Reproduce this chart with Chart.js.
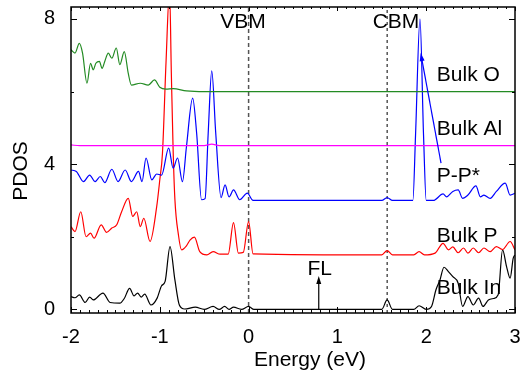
<!DOCTYPE html>
<html>
<head>
<meta charset="utf-8">
<script src="https://cdn.jsdelivr.net/npm/chart.js@4"></script>
<style>
  html, body { margin: 0; padding: 0; background: #fff; }
  canvas { display: block; }
</style>
</head>
<body>
<canvas id="pdosChart" width="525" height="381"></canvas>
<script>
// PDOS curves (energy in eV, PDOS offset per layer)
const inX = [-2, -1.955, -1.906, -1.84, -1.79, -1.75, -1.64, -1.56, -1.45, -1.40, -1.34, -1.29, -1.25, -1.21, -1.17, -1.10, -1.03, -0.98, -0.94, -0.885, -0.83, -0.78, -0.72, -0.60, -0.5, -0.40, -0.33, -0.27, -0.22, -0.17, -0.08, 0.0, 0.06, 1.50, 1.56, 1.62, 1.86, 1.92, 2.0, 2.06, 2.11, 2.155, 2.20, 2.25, 2.30, 2.36, 2.41, 2.47, 2.53, 2.59, 2.64, 2.70, 2.76, 2.81, 2.86, 2.905, 2.945, 2.98, 3.0];
const inY = [0.35, 0.32, 0.40, 0.19, 0.34, 0.26, 0.45, 0.19, 0.17, 0.30, 0.58, 0.37, 0.45, 0.34, 0.42, 0.12, 0.31, 0.65, 0.77, 1.73, 0.81, 0.12, 0.01, 0.06, 0.0, 0.08, 0.0, 0.08, 0.0, 0.06, 0.0, 0.08, 0.0, 0.0, 0.26, 0.0, 0.0, 0.1, 0.0, 0.08, 0.54, 0.81, 1.16, 1.04, 0.9, 0.72, 0.08, 0.35, 0.12, 0.31, 0.08, 0.26, 0.3, 0.4, 1.64, 1.18, 0.86, 1.41, 1.5];

const pX = [-2, -1.955, -1.89, -1.83, -1.78, -1.74, -1.66, -1.60, -1.54, -1.485, -1.43, -1.355, -1.305, -1.26, -1.22, -1.18, -1.11, -1.035, -1.0, -0.97, -0.93, -0.89, -0.87, -0.85, -0.83, -0.79, -0.755, -0.70, -0.66, -0.61, -0.55, -0.47, -0.40, -0.32, -0.23, -0.17, -0.115, -0.06, 0.0, 0.05, 1.50, 1.56, 1.62, 1.86, 1.92, 1.98, 2.10, 2.19, 2.25, 2.30, 2.36, 2.42, 2.47, 2.53, 2.59, 2.65, 2.72, 2.79, 2.86, 2.945, 3.0];
const pY = [2.28, 2.14, 2.69, 2.0, 2.1, 1.96, 2.33, 2.12, 2.24, 2.33, 2.69, 3.06, 2.56, 2.69, 2.28, 2.51, 1.87, 2.83, 3.57, 4.3, 6.8, 8.8, 6.5, 4.4, 3.03, 2.05, 1.64, 1.75, 1.91, 1.99, 1.59, 1.5, 1.59, 1.52, 1.52, 2.39, 1.55, 1.57, 2.42, 1.53, 1.5, 1.62, 1.5, 1.5, 1.59, 1.5, 1.55, 1.82, 1.64, 1.72, 1.56, 1.69, 1.55, 1.69, 1.56, 1.69, 1.59, 1.73, 1.65, 1.87, 1.64];

const ppX = [-2, -1.94, -1.86, -1.79, -1.73, -1.67, -1.62, -1.54, -1.47, -1.39, -1.32, -1.24, -1.20, -1.155, -1.09, -1.035, -0.98, -0.90, -0.85, -0.80, -0.745, -0.70, -0.63, -0.585, -0.53, -0.49, -0.455, -0.415, -0.37, -0.31, -0.265, -0.22, -0.17, -0.10, -0.015, 0.05, 1.50, 1.56, 1.62, 1.85, 1.88, 1.93, 1.97, 2.0, 2.08, 2.19, 2.23, 2.30, 2.36, 2.41, 2.47, 2.56, 2.61, 2.65, 2.72, 2.79, 2.89, 2.945, 3.0];
const ppY = [3.84, 3.8, 3.52, 3.7, 3.52, 3.66, 3.49, 3.86, 3.52, 3.84, 3.52, 3.8, 3.52, 4.17, 3.57, 3.73, 3.7, 4.44, 3.89, 4.17, 3.52, 4.48, 5.82, 4.85, 3.02, 3.05, 4.85, 6.57, 4.85, 3.08, 3.43, 3.1, 3.29, 3.02, 3.2, 3.0, 3.0, 3.08, 3.0, 3.0, 4.8, 8.0, 4.8, 3.0, 3.0, 3.18, 3.1, 3.25, 3.29, 3.06, 3.15, 3.4, 3.1, 3.15, 3.06, 3.25, 3.48, 3.15, 3.2];

const alX = [-2, -1.9, -0.5, -0.415, -0.33, 3.0];
const alY = [4.53, 4.51, 4.51, 4.55, 4.51, 4.51];

const oX = [-2, -1.955, -1.906, -1.87, -1.82, -1.78, -1.75, -1.72, -1.68, -1.65, -1.62, -1.58, -1.54, -1.49, -1.45, -1.40, -1.355, -1.32, -1.22, -1.13, -1.06, -1.0, -0.93, -0.85, -0.70, -0.5, 3.0];
const oY = [7.15, 7.06, 7.33, 7.06, 6.23, 6.78, 6.6, 6.78, 6.83, 6.64, 6.83, 7.06, 6.92, 7.2, 6.74, 7.1, 6.5, 6.18, 6.23, 6.18, 6.32, 6.12, 6.07, 6.08, 6.02, 6.0, 6.0];

const xTicks = [-2, -1, 0, 1, 2, 3];
const yTicks = [0, 4, 8];
const vbmE = 0;
const cbmE = 1.56;
const fermiE = 0.79;

const yMin = -0.1, yMax = 8.33;

// text labels in data coordinates
const notes = [
    { text: 'VBM', x: -0.063, y: 7.92, align: 'center' },
    { text: 'CBM', x: 1.66, y: 7.92, align: 'center' },
    { text: 'FL', x: 0.80, y: 1.10, align: 'center' },
    { text: 'Bulk O', x: 2.12, y: 6.44, align: 'left' },
    { text: 'Bulk Al', x: 2.12, y: 4.96, align: 'left' },
    { text: 'P-P*', x: 2.12, y: 3.68, align: 'left' },
    { text: 'Bulk P', x: 2.12, y: 2.02, align: 'left' },
    { text: 'Bulk In', x: 2.12, y: 0.57, align: 'left' }
];

const FONT = '"Liberation Sans", Arial, sans-serif';

function pts(xs, ys) {
    return xs.map((x, i) => ({ x: x, y: ys[i] }));
}

function curve(xs, ys, color) {
    return {
        data: pts(xs, ys),
        borderColor: color,
        borderWidth: 1.2,
        pointRadius: 0,
        cubicInterpolationMode: 'monotone',
        fill: false
    };
}

function arrow(ctx, x0, y0, x1, y1, color) {
    const ang = Math.atan2(y1 - y0, x1 - x0);
    const len = 8, half = 2.5;
    ctx.strokeStyle = color;
    ctx.fillStyle = color;
    ctx.lineWidth = 1.2;
    ctx.beginPath();
    ctx.moveTo(x0, y0);
    ctx.lineTo(x1 - Math.cos(ang) * len * 0.8, y1 - Math.sin(ang) * len * 0.8);
    ctx.stroke();
    ctx.beginPath();
    ctx.moveTo(x1, y1);
    ctx.lineTo(x1 - Math.cos(ang) * len - Math.sin(ang) * half, y1 - Math.sin(ang) * len + Math.cos(ang) * half);
    ctx.lineTo(x1 - Math.cos(ang) * len + Math.sin(ang) * half, y1 - Math.sin(ang) * len - Math.cos(ang) * half);
    ctx.closePath();
    ctx.fill();
}

const decor = {
    id: 'decor',
    afterDraw(chart) {
        const { ctx, chartArea: a, scales } = chart;
        const x = scales.x, y = scales.y;
        ctx.save();

        // frame
        ctx.strokeStyle = '#000';
        ctx.lineWidth = 1.5;
        ctx.strokeRect(a.left, a.top, a.right - a.left, a.bottom - a.top);

        // inward ticks (bottom, top, left, right)
        ctx.lineWidth = 1;
        ctx.beginPath();
        for (let i = 0; i <= 50; i++) {
            const px = Math.round(x.getPixelForValue(xTicks[0] + i * 0.1)) + 0.5;
            const major = i % 10 === 0;
            ctx.moveTo(px, a.bottom);
            ctx.lineTo(px, a.bottom - (major ? 6 : 3));
            ctx.moveTo(px, a.top);
            ctx.lineTo(px, a.top + (major ? 4 : 2));
        }
        for (let v = 0; v <= 8; v += 2) {
            const py = Math.round(y.getPixelForValue(v)) + 0.5;
            const len = v % 4 === 0 ? 6 : 3;
            ctx.moveTo(a.left, py);
            ctx.lineTo(a.left + len, py);
            ctx.moveTo(a.right, py);
            ctx.lineTo(a.right - len, py);
        }
        ctx.stroke();

        // arrows
        arrow(ctx, x.getPixelForValue(fermiE), y.getPixelForValue(0), x.getPixelForValue(fermiE), y.getPixelForValue(0.92), '#000');
        arrow(ctx, x.getPixelForValue(2.167), y.getPixelForValue(4.03), x.getPixelForValue(1.938), y.getPixelForValue(7.06), '#0000ff');

        // labels
        ctx.fillStyle = '#000';
        ctx.font = '21px ' + FONT;
        ctx.textBaseline = 'middle';
        notes.forEach(n => {
            ctx.textAlign = n.align;
            ctx.fillText(n.text, x.getPixelForValue(n.x), y.getPixelForValue(n.y));
        });

        // axis titles
        ctx.textAlign = 'center';
        ctx.fillText('Energy (eV)', 310, 360);
        ctx.translate(21, 171);
        ctx.rotate(-Math.PI / 2);
        ctx.fillText('PDOS', 0, 0);
        ctx.restore();
    }
};

const canvas = document.getElementById('pdosChart');

new Chart(canvas.getContext('2d'), {
    type: 'line',
    data: {
        datasets: [
            curve(oX, oY, '#238b23'),
            curve(alX, alY, '#ff00ff'),
            curve(ppX, ppY, '#0000ff'),
            curve(pX, pY, '#ff0000'),
            curve(inX, inY, '#000000'),
            {
                data: [{ x: vbmE, y: yMin }, { x: vbmE, y: yMax }],
                borderColor: '#555555',
                borderWidth: 1.5,
                borderDash: [4, 3],
                pointRadius: 0
            },
            {
                data: [{ x: cbmE, y: yMin }, { x: cbmE, y: yMax }],
                borderColor: '#000000',
                borderWidth: 1,
                borderDash: [3, 3],
                pointRadius: 0
            }
        ]
    },
    options: {
        responsive: false,
        animation: false,
        devicePixelRatio: 1,
        layout: { padding: { left: 0, top: 7, right: 10, bottom: 0 } },
        plugins: {
            legend: { display: false },
            tooltip: { enabled: false }
        },
        scales: {
            x: {
                type: 'linear',
                min: -2,
                max: 3,
                afterBuildTicks: s => { s.ticks = xTicks.map(v => ({ value: v })); },
                afterFit: s => { s.height = 68; s.paddingLeft = 0; s.paddingRight = 0; },
                grid: { display: false },
                border: { display: false },
                ticks: {
                    color: '#000',
                    padding: 4,
                    font: { family: FONT, size: 20 },
                    maxRotation: 0
                }
            },
            y: {
                type: 'linear',
                min: yMin,
                max: yMax,
                afterBuildTicks: s => { s.ticks = yTicks.map(v => ({ value: v })); },
                afterFit: s => { s.width = 71; s.paddingTop = 0; s.paddingBottom = 0; },
                grid: { display: false },
                border: { display: false },
                ticks: {
                    color: '#000',
                    padding: 8,
                    font: { family: FONT, size: 20 }
                }
            }
        }
    },
    plugins: [decor]
});
</script>
</body>
</html>
